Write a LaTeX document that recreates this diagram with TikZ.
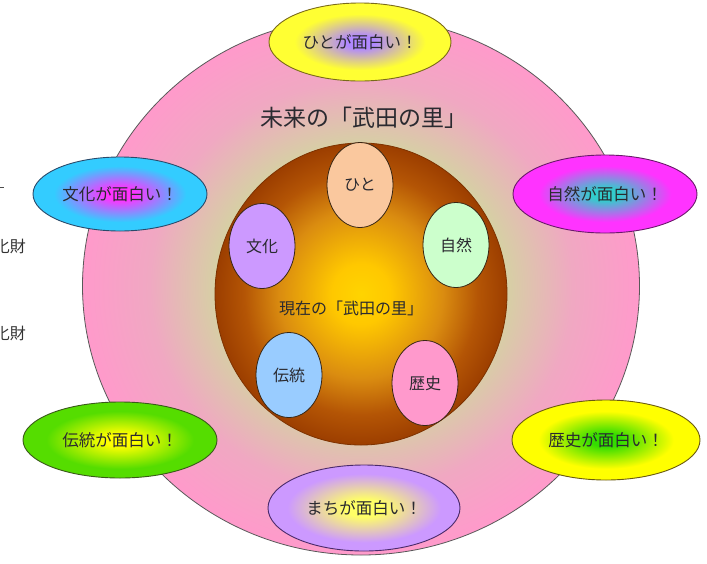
\documentclass[tikz,border=0pt]{standalone}
\usepackage{fontspec}
\setmainfont{Noto Sans CJK JP}
\usetikzlibrary{shapes.geometric}
\definecolor{ringin}{HTML}{D6D0A4}
\definecolor{ringmid}{HTML}{F0A8C2}
\definecolor{ringout}{HTML}{FF9ACB}
\definecolor{corein}{HTML}{FFD400}
\definecolor{corea}{HTML}{FFC800}
\definecolor{coreb}{HTML}{DA8C10}
\definecolor{corec}{HTML}{B45505}
\definecolor{coreout}{HTML}{9C3E00}
\definecolor{txt}{HTML}{2A2A30}
% outer label colours
\definecolor{hitoin}{HTML}{B088FF}\definecolor{hitoout}{HTML}{FFFF33}
\definecolor{bunin}{HTML}{FF33FF}\definecolor{bunout}{HTML}{33CCFF}
\definecolor{shiin}{HTML}{33CCCC}\definecolor{shiout}{HTML}{FF33FF}
\definecolor{denin}{HTML}{FFFF00}\definecolor{denout}{HTML}{55DD00}
\definecolor{rekin}{HTML}{33DD00}\definecolor{rekout}{HTML}{FFFF00}
\definecolor{machin}{HTML}{FFFF66}\definecolor{machout}{HTML}{CC99FF}
\pgfdeclareradialshading{bigring}{\pgfpointorigin}{color(0bp)=(ringin); color(13bp)=(ringin); color(19bp)=(ringmid); color(25bp)=(ringout); color(50bp)=(ringout)}
\pgfdeclareradialshading{coreshade}{\pgfpointorigin}{color(0bp)=(corein); color(5bp)=(corea); color(14bp)=(coreb); color(20bp)=(corec); color(25bp)=(coreout); color(50bp)=(coreout)}
\pgfdeclareradialshading{shhito}{\pgfpointorigin}{color(0bp)=(hitoin); color(4bp)=(hitoin); color(18bp)=(hitoout); color(50bp)=(hitoout)}
\pgfdeclareradialshading{shbun}{\pgfpointorigin}{color(0bp)=(bunin); color(4bp)=(bunin); color(19bp)=(bunout); color(50bp)=(bunout)}
\pgfdeclareradialshading{shshi}{\pgfpointorigin}{color(0bp)=(shiin); color(4bp)=(shiin); color(18bp)=(shiout); color(50bp)=(shiout)}
\pgfdeclareradialshading{shden}{\pgfpointorigin}{color(0bp)=(denin); color(4bp)=(denin); color(19bp)=(denout); color(50bp)=(denout)}
\pgfdeclareradialshading{shrek}{\pgfpointorigin}{color(0bp)=(rekin); color(4bp)=(rekin); color(18bp)=(rekout); color(50bp)=(rekout)}
\pgfdeclareradialshading{shmach}{\pgfpointorigin}{color(0bp)=(machin); color(5bp)=(machin); color(20bp)=(machout); color(50bp)=(machout)}
\tikzset{
  outerlbl/.style={ellipse, inner sep=0pt, line width=0.9pt, text=txt, font=\fontsize{16.5}{17}\selectfont},
  innerlbl/.style={ellipse, inner sep=0pt, line width=0.8pt, draw=black!70!brown, text=txt,
                   minimum width=66pt, minimum height=85pt, font=\fontsize{16}{17}\selectfont},
  sidetxt/.style={inner sep=0pt, text=black!80, font=\fontsize{16}{17}\selectfont}
}
\begin{document}
\begin{tikzpicture}[x=1pt,y=-1pt]
\useasboundingbox (0,0) rectangle (707,563);
\clip (0,0) rectangle (707,563);
\fill[white] (0,0) rectangle (707,563);
% left fragments
\draw[black!70, line width=0.7pt] (0,187) -- (4,187);
\node[sidetxt, anchor=east] (frag1) at (26,246) {化財};
\node[sidetxt, anchor=east] (frag2) at (26,333) {化財};
% big ring
\node[ellipse, draw=black!65, line width=0.8pt, shading=bigring, minimum width=557pt, minimum height=538pt, inner sep=0pt] (ring) at (361,286) {};
\node[text=txt, font=\fontsize{23}{24}\selectfont] (future) at (364,118) {未来の「武田の里」};
% core
\node[ellipse, draw=coreout!80!black, line width=0.8pt, shading=coreshade, minimum width=292pt, minimum height=302pt, inner sep=0pt] (core) at (361,294) {};
\node[text=txt, font=\fontsize{16}{17}\selectfont] (present) at (351,308) {現在の「武田の里」};
% inner labels
\node[innerlbl, fill={rgb,255:red,250;green,200;blue,158}] (hito) at (360,185) {ひと};
\node[innerlbl, fill={rgb,255:red,204;green,153;blue,255}] (bunka) at (262,246) {文化};
\node[innerlbl, fill={rgb,255:red,204;green,255;blue,204}] (shizen) at (456,245) {自然};
\node[innerlbl, fill={rgb,255:red,153;green,204;blue,255}] (dento) at (289,375) {伝統};
\node[innerlbl, fill={rgb,255:red,255;green,153;blue,204}] (rekishi) at (425,383) {歴史};
% outer labels
\node[outerlbl, draw={rgb,255:red,122;green,106;blue,26}, shading=shhito, minimum width=182pt, minimum height=78pt] (ohito) at (360,42) {ひとが面白い！};
\node[outerlbl, draw={rgb,255:red,42;green,74;blue,106}, shading=shbun, minimum width=174pt, minimum height=74pt] (obunka) at (120,194) {文化が面白い！};
\node[outerlbl, draw={rgb,255:red,106;green,26;blue,106}, shading=shshi, minimum width=184pt, minimum height=78pt] (oshizen) at (605,194) {自然が面白い！};
\node[outerlbl, draw={rgb,255:red,58;green,90;blue,26}, shading=shden, minimum width=194pt, minimum height=76pt] (odento) at (120,440) {伝統が面白い！};
\node[outerlbl, draw={rgb,255:red,106;green,90;blue,16}, shading=shrek, minimum width=188pt, minimum height=80pt] (orekishi) at (606,440) {歴史が面白い！};
\node[outerlbl, draw={rgb,255:red,74;green,42;blue,106}, shading=shmach, minimum width=192pt, minimum height=86pt] (omachi) at (364,508) {まちが面白い！};
\end{tikzpicture}
\end{document}
